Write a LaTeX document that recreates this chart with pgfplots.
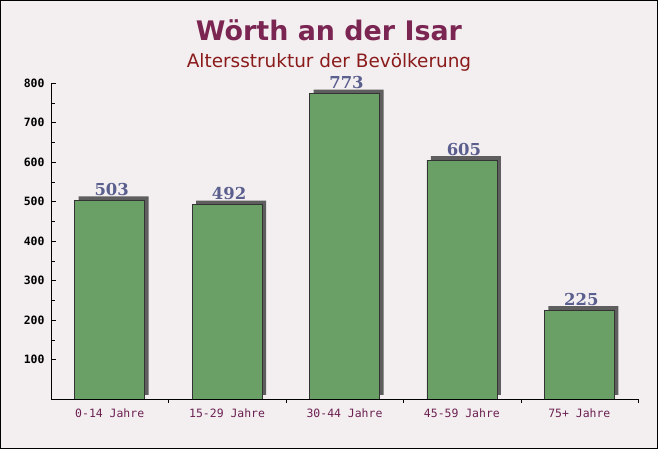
\documentclass[border=0pt]{standalone}
\usepackage{fontspec}
\setmainfont{DejaVu Sans}
\newfontfamily\monofont{DejaVu Sans Mono}
\newfontfamily\seriffont{DejaVu Serif}
\usepackage{pgfplots}
\pgfplotsset{compat=1.18}
\definecolor{bg}{HTML}{F3EFF1}
\definecolor{titlec}{HTML}{7B2652}
\definecolor{subc}{HTML}{8B1A1A}
\definecolor{barc}{HTML}{6A9F65}
\definecolor{valc}{HTML}{5A5F8E}
\definecolor{labc}{HTML}{6B2050}
\definecolor{shadowc}{HTML}{5E5E5E}
\begin{document}
\begin{tikzpicture}[x=1bp,y=1bp]
\fill[bg] (0,0) rectangle (658,449);
\draw[black, line width=1bp] (0.5,0.5) rectangle (657.5,448.5);
\node[font=\fontsize{27}{31}\selectfont\bfseries, text=titlec] at (329,419) {Wörth an der Isar};
\node[font=\fontsize{18.5}{22}\selectfont, text=subc] at (329,387) {Altersstruktur der Bevölkerung};
\begin{axis}[
    at={(51bp,50bp)}, anchor=south west,
    scale only axis, width=587bp, height=316bp,
    ymin=0, ymax=800, xmin=-0.5, xmax=4.5,
    axis lines=left, axis line style={-, black},
    ytick={100,200,...,800}, minor y tick num=1,
    xtick={0,...,4},
    xticklabels={0-14 Jahre,15-29 Jahre,30-44 Jahre,45-59 Jahre,75+ Jahre},
    minor xtick={0.5,1.5,2.5,3.5,4.5},
    tick align=inside,
    major tick length=5bp, minor tick length=4bp,
    major x tick style={draw=none},
    tick style={black},
    yticklabel style={font=\monofont\bfseries\fontsize{11.5}{13}\selectfont, xshift=-3bp},
    xticklabel style={font=\monofont\fontsize{11.5}{13}\selectfont, text=labc, yshift=-1bp},
    /pgf/number format/assume math mode=true,
    ybar, bar width=70bp,
]
% shadow
\addplot[fill=shadowc, draw=none, xshift=4bp, yshift=4bp, forget plot] coordinates {
    (0,503) (1,492) (2,773) (3,605) (4,225)
};
\addplot[fill=barc, draw=black!80, line width=0.8bp,
    nodes near coords,
    every node near coord/.append style={font=\seriffont\bfseries\fontsize{16.5}{18}\selectfont, text=valc, yshift=1bp, xshift=2bp}
] coordinates {
    (0,503) (1,492) (2,773) (3,605) (4,225)
};
\end{axis}
\end{tikzpicture}
\end{document}
